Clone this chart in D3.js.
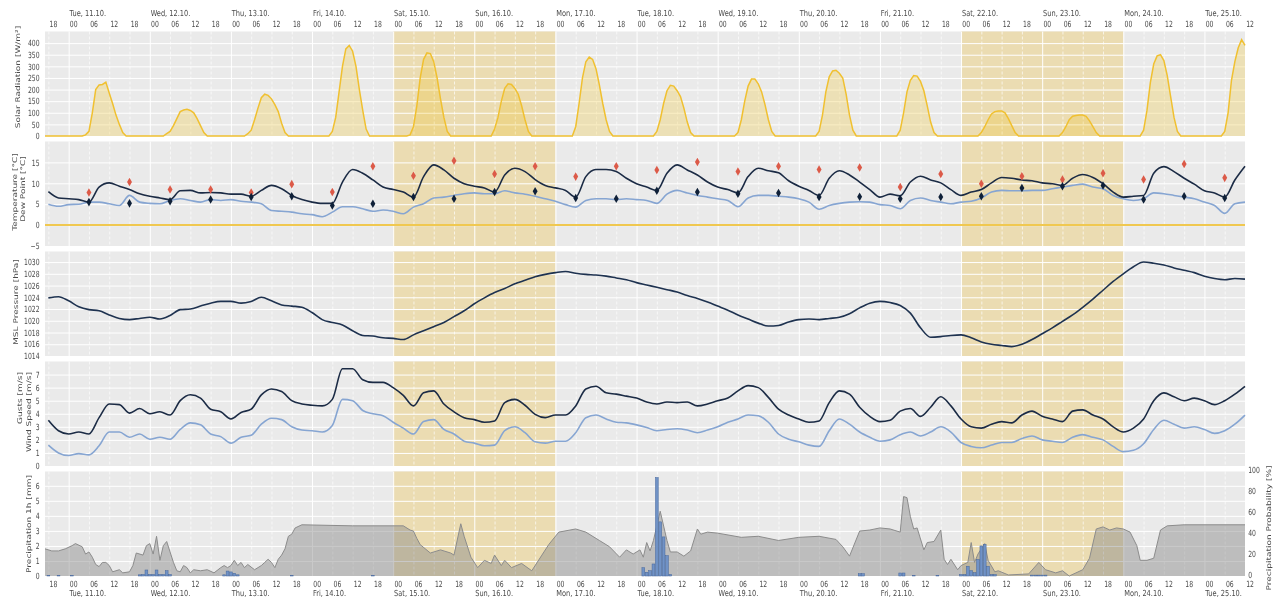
<!DOCTYPE html>
<html><head><meta charset="utf-8">
<script src="https://cdn.jsdelivr.net/npm/d3@7"></script>
<style>
body{margin:0;background:#fff}
svg{display:block;will-change:transform}
text{font-family:"DejaVu Sans",sans-serif;fill:#4a4a4a}
</style></head>
<body><svg id="c" width="1274" height="598"></svg>
<script>
// ---------------- DATA ----------------
const timeStart = "2022-10-10 17", timeEnd = "2022-10-25 12";
const seriesStart = "2022-10-10 18";           // 3-hourly series start
const weekends = [["2022-10-15 00","2022-10-17 00"],["2022-10-22 00","2022-10-24 00"]];

// solar radiation, hourly 04..17 UTC per day [W/m²]
const solarDays = ["2022-10-11","2022-10-12","2022-10-13","2022-10-14","2022-10-15","2022-10-16","2022-10-17",
  "2022-10-18","2022-10-19","2022-10-20","2022-10-21","2022-10-22","2022-10-23","2022-10-24","2022-10-25"];
const solarValues = [
  [0,5,20,100,200,220,222,232,185,140,90,50,15,0],
  [0,10,20,45,75,105,112,115,110,100,75,45,15,0],
  [0,10,25,70,120,165,180,175,160,135,105,55,15,0],
  [0,0,20,80,190,300,375,390,365,300,200,110,30,0],
  [0,5,40,130,250,330,358,355,320,250,160,80,20,0],
  [0,0,30,80,150,205,225,222,205,180,130,70,20,0],
  [0,0,40,140,250,320,340,330,290,220,140,70,20,0],
  [0,0,20,70,140,195,218,215,195,170,120,60,15,0],
  [0,0,15,70,150,215,245,245,225,190,135,70,20,0],
  [0,0,20,90,190,255,280,283,270,250,180,90,25,0],
  [0,0,25,100,190,240,260,258,235,195,130,60,15,0],
  [0,0,15,40,70,95,105,108,108,100,75,45,15,0],
  [0,0,15,40,70,85,88,90,90,85,65,40,15,0],
  [0,0,25,110,230,310,345,350,325,260,170,80,20,0],
  [0,0,20,100,240,320,380,415,390]
];

// 3-hourly series from seriesStart
const temperature = [8.0,6.5,
 6.3,6.1,5.5,9.1,10.1,9.3,8.5,7.5, 6.9,6.5,6.1,8.2,8.3,7.7,7.8,7.7, 7.4,7.4,6.9,8.3,9.5,8.7,7.1,6.1,
 5.5,5.2,5.2,10.3,13.3,12.4,10.8,9.1, 8.5,7.9,6.7,11.6,14.4,13.2,11.2,9.9, 9.3,8.9,7.9,12.0,13.6,12.8,10.9,9.5,
 8.9,8.3,6.7,11.6,13.3,13.3,12.8,11.2, 9.9,9.1,8.3,12.4,14.4,13.2,12.0,10.3, 9.1,8.5,7.7,11.6,13.6,13.0,12.5,10.6,
 9.3,8.3,7.1,11.2,13.0,12.0,10.3,8.5, 6.7,7.4,7.0,10.3,11.7,10.8,10.1,8.5, 7.1,7.9,8.5,10.1,11.4,11.2,10.8,10.6,
 10.1,9.9,9.5,11.2,12.1,11.4,9.9,7.9, 6.7,6.9,7.1,12.4,14.0,12.8,11.2,9.8, 8.2,7.7,6.7,10.8,14.1];
const dewPoint = [5.0,4.5,
 4.9,5.0,5.5,5.5,5.1,4.7,7.1,5.5, 5.2,5.1,5.9,6.3,5.9,5.5,6.1,5.9, 6.1,5.7,5.5,5.1,3.5,3.3,3.1,2.7,
 2.5,2.0,3.1,4.4,4.4,3.9,3.3,3.6, 3.3,2.7,4.3,5.1,6.5,6.7,7.1,7.5, 7.7,7.5,7.5,8.2,7.7,7.4,6.9,6.3,
 5.7,4.9,4.3,5.9,6.3,6.3,6.1,6.3, 6.1,5.9,5.2,7.4,8.3,7.7,7.1,6.7, 6.3,5.9,4.4,6.5,7.1,7.1,6.9,6.7,
 6.3,5.5,3.8,4.7,5.2,5.5,5.6,5.5, 4.9,4.7,3.9,5.9,6.5,5.9,5.5,5.1, 5.5,5.7,6.5,7.9,8.3,8.2,8.2,8.3,
 8.3,8.7,9.1,9.5,9.8,9.1,8.7,7.1, 6.3,5.9,6.3,7.7,7.5,7.1,6.7,6.3, 5.5,4.7,2.8,5.1,5.5];
const pressure = [1023.9,1024.1,
 1023.4,1022.4,1021.9,1021.7,1021.0,1020.4,1020.2,1020.4, 1020.6,1020.3,1020.9,1021.9,1022.0,1022.5,1023.0,1023.3,
 1023.3,1023.0,1023.3,1024.0,1023.4,1022.7,1022.5,1022.3, 1021.4,1020.2,1019.7,1019.3,1018.3,1017.5,1017.4,1017.1,
 1017.0,1016.8,1017.6,1018.3,1019.0,1019.7,1020.7,1021.7, 1022.9,1023.9,1024.8,1025.5,1026.3,1026.9,1027.5,1027.9,
 1028.2,1028.4,1028.1,1027.9,1027.8,1027.6,1027.3,1027.0, 1026.5,1026.1,1025.7,1025.3,1024.9,1024.3,1023.8,1023.2,
 1022.5,1021.8,1021.0,1020.3,1019.6,1019.1,1019.2,1019.8, 1020.2,1020.3,1020.2,1020.4,1020.6,1021.2,1022.2,1023.0,
 1023.3,1023.1,1022.6,1021.3,1018.8,1017.2,1017.3,1017.5, 1017.6,1017.1,1016.4,1016.0,1015.8,1015.6,1016.0,1016.8,
 1017.8,1018.8,1019.9,1021.0,1022.3,1023.7,1025.2,1026.7, 1028.0,1029.2,1030.0,1029.8,1029.5,1029.0,1028.6,1028.2,
 1027.6,1027.2,1027.0,1027.2,1027.1];
const gusts = [3.5,2.7,
 2.45,2.6,2.45,3.7,4.75,4.7,4.05,4.4, 4.0,4.15,3.9,5.0,5.45,5.2,4.35,4.15, 3.6,4.1,4.35,5.45,5.9,5.7,5.0,4.75,
 4.65,4.6,5.1,7.45,7.45,6.6,6.4,6.4, 6.0,5.4,4.6,5.6,5.75,4.75,4.15,3.7, 3.55,3.35,3.45,4.85,5.1,4.65,3.95,3.7,
 3.9,3.9,4.6,5.9,6.1,5.6,5.5,5.35, 5.2,4.9,4.75,4.9,4.85,4.9,4.6,4.75, 5.0,5.2,5.75,6.15,6.0,5.25,4.35,3.9,
 3.6,3.35,3.45,4.85,5.75,5.5,4.5,3.8, 3.4,3.5,4.2,4.4,3.8,4.5,5.3,4.6, 3.6,3.0,2.9,3.2,3.4,3.3,3.9,4.2,
 3.8,3.6,3.4,4.2,4.3,3.9,3.6,3.0, 2.6,2.9,3.6,5.0,5.6,5.3,5.0,5.2, 5.0,4.7,5.0,5.5,6.1];
const windSpeed = [1.6,1.0,
 0.8,0.95,0.85,1.55,2.6,2.6,2.2,2.45, 2.05,2.2,2.05,2.8,3.3,3.15,2.45,2.25, 1.75,2.2,2.35,3.2,3.65,3.55,3.0,2.75,
 2.7,2.6,3.1,5.1,5.0,4.25,4.0,3.85, 3.35,2.9,2.45,3.4,3.55,2.8,2.45,1.9, 1.75,1.55,1.6,2.7,3.0,2.55,1.85,1.75,
 1.9,1.9,2.55,3.7,3.9,3.6,3.35,3.3, 3.15,2.95,2.7,2.8,2.85,2.75,2.55,2.75, 3.0,3.35,3.6,3.9,3.85,3.35,2.45,2.05,
 1.85,1.6,1.5,2.7,3.6,3.2,2.6,2.2, 1.9,2.0,2.4,2.6,2.3,2.6,3.0,2.6, 1.8,1.5,1.4,1.6,1.8,1.8,2.1,2.3,
 2.0,1.9,1.8,2.2,2.4,2.2,2.0,1.5, 1.1,1.2,1.7,2.8,3.5,3.2,2.9,3.0, 2.8,2.5,2.7,3.2,3.9];

// 12-hourly markers from 2022-10-11 06
const markerStart = "2022-10-11 06";
const tempHigh = [7.8,10.3,8.5,8.5,7.8,9.8,7.9,14.1,11.8,15.4,12.2,14.1,11.6,14.1,13.2,15.1,12.8,14.1,13.3,13.8,9.1,12.2,9.9,11.7,10.9,12.4,10.9,14.6,11.3];
const tempLow  = [5.5,5.2,5.7,6.1,6.7,6.9,4.7,5.1,6.7,6.3,7.9,8.1,6.5,6.3,8.2,7.9,7.5,7.7,6.7,6.8,6.3,6.7,6.9,8.9,9.3,9.5,6.1,6.9,6.5];

// hourly precipitation [mm] (hours not listed: 0)
const precipTimes = ["10-10 18","10-10 21","10-11 01","10-11 21","10-11 22","10-11 23","10-12 00","10-12 01","10-12 02","10-12 03","10-12 04","10-12 05","10-12 06",
 "10-12 22","10-12 23","10-13 00","10-13 01","10-13 02","10-13 18","10-14 18",
 "10-18 02","10-18 03","10-18 04","10-18 05","10-18 06","10-18 07","10-18 08","10-18 09","10-18 10",
 "10-20 18","10-20 19","10-21 06","10-21 07","10-21 10","10-21 17",
 "10-22 00","10-22 01","10-22 02","10-22 03","10-22 04","10-22 05","10-22 06","10-22 07","10-22 08","10-22 09","10-22 10",
 "10-22 21","10-22 22","10-22 23","10-23 00","10-23 01"];
const precipValues = [0.04,0.04,0.04,0.08,0.1,0.4,0.1,0.1,0.4,0.1,0.1,0.35,0.1,
 0.08,0.33,0.27,0.18,0.08,0.05,0.05,
 0.55,0.25,0.35,0.8,6.55,3.6,2.6,1.35,0.1,
 0.15,0.15,0.2,0.2,0.05,0.05,
 0.1,0.1,0.65,0.35,0.22,1.1,2.0,2.1,0.65,0.1,0.1,
 0.06,0.06,0.06,0.06,0.06];

// precipitation probability [%]
const probTimes = ["10-10 17","10-10 19","10-10 21","10-10 23","10-11 01","10-11 02","10-11 04","10-11 05","10-11 06","10-11 07","10-11 08","10-11 09","10-11 10","10-11 11","10-11 12","10-11 13","10-11 15","10-11 16","10-11 18","10-11 19","10-11 20","10-11 22","10-11 23",
 "10-12 00","10-12 01","10-12 02","10-12 03","10-12 04","10-12 05","10-12 06","10-12 07","10-12 08","10-12 09","10-12 10","10-12 11","10-12 12","10-12 13","10-12 15","10-12 17","10-12 19","10-12 21","10-12 22","10-12 23",
 "10-13 00","10-13 01","10-13 02","10-13 03","10-13 04","10-13 05","10-13 07","10-13 09","10-13 10","10-13 11","10-13 12","10-13 13","10-13 14","10-13 15","10-13 16","10-13 17","10-13 18","10-13 19","10-13 21",
 "10-14 12","10-15 03","10-15 05","10-15 06","10-15 07","10-15 08","10-15 11","10-15 14","10-15 17","10-15 18","10-15 20","10-15 21","10-15 23",
 "10-16 01","10-16 03","10-16 05","10-16 06","10-16 08","10-16 09","10-16 11","10-16 14","10-16 17","10-16 20","10-16 22",
 "10-17 01","10-17 06","10-17 09","10-17 13","10-17 16","10-17 19","10-17 21","10-17 23",
 "10-18 01","10-18 02","10-18 03","10-18 04","10-18 05","10-18 07","10-18 09","10-18 10","10-18 12","10-18 14","10-18 16","10-18 18","10-18 19","10-18 21",
 "10-19 00","10-19 07","10-19 12","10-19 18","10-20 00","10-20 06","10-20 11","10-20 13","10-20 15","10-20 18","10-20 21",
 "10-21 00","10-21 03","10-21 06","10-21 07","10-21 08","10-21 09","10-21 10","10-21 11","10-21 13","10-21 14","10-21 16","10-21 18","10-21 19","10-21 20","10-21 21","10-21 23",
 "10-22 00","10-22 02","10-22 03","10-22 04","10-22 05","10-22 07","10-22 08","10-22 10","10-22 11","10-22 14","10-22 20","10-22 23",
 "10-23 01","10-23 04","10-23 06","10-23 08","10-23 12","10-23 14","10-23 16","10-23 18","10-23 20","10-23 22",
 "10-24 00","10-24 02","10-24 04","10-24 05","10-24 07","10-24 09","10-24 11","10-24 13","10-24 18","10-25 12"];
const probValues = [26,24,24,26,29,31,28,21,23,18,11,9,13,13,10,4,6,3,4,10,22,20,29,
 31,21,38,15,29,33,23,13,5,4,10,8,3,6,5,6,3,8,10,8,
 10,15,10,13,8,11,6,10,13,16,13,8,16,20,26,38,40,46,49,
 48,48,44,43,36,30,22,25,22,20,50,38,18,
 8,15,12,20,10,15,8,12,5,20,30,
 42,45,42,34,28,18,25,21,
 25,18,32,24,34,62,34,23,23,19,24,45,40,42,
 41,37,38,34,37,38,35,28,19,43,44,
 46,45,42,76,75,57,45,46,25,32,33,44,16,11,16,6,
 10,13,32,13,21,31,15,4,5,1,2,13,
 6,3,5,0,6,17,45,47,44,46,
 45,42,29,15,15,17,44,48,49,49];

// ---------------- CHART ----------------
const P = d3.utcParse("%Y-%m-%d %H");
const PY = s => P("2022-" + s);
const T0 = P(timeStart), T1 = P(timeEnd), S0 = P(seriesStart);
const x = d3.scaleUtc().domain([T0, T1]).range([45, 1245]);
const X0 = 45, X1 = 1245, PH = 104.5;
const tops = [31.5, 141.5, 251.5, 361.5, 471.5];
const svg = d3.select("#c");
const SX = 0.72;

const s3 = arr => arr.map((v, i) => ({t: d3.utcHour.offset(S0, 3 * i), v}));

// solar hourly
const solar = [];
for (let t = T0; t <= T1; t = d3.utcHour.offset(t, 1)) {
  const di = solarDays.indexOf(d3.utcFormat("%Y-%m-%d")(t));
  const h = t.getUTCHours();
  let v = 0;
  if (di >= 0 && h >= 4 && h - 4 < solarValues[di].length) v = solarValues[di][h - 4];
  solar.push({t, v});
}

function panel(k, y, yTicks) {
  const g = svg.append("g").attr("transform", `translate(0,${tops[k]})`);
  g.append("rect").attr("x", X0).attr("width", X1 - X0).attr("height", PH).attr("fill", "#eaeaea");
  weekends.forEach(w => {
    g.append("rect").attr("x", x(P(w[0]))).attr("width", x(P(w[1])) - x(P(w[0])))
      .attr("height", PH).attr("fill", "#ebdcb2");
  });
  const hg = g.append("g").attr("transform", `translate(${X0},0)`)
    .call(d3.axisLeft(y).tickValues(yTicks).tickSize(-(X1 - X0)).tickFormat(""));
  hg.select(".domain").remove();
  hg.selectAll("line").attr("stroke", "#fff").attr("stroke-width", 1);
  const vg = g.append("g").call(d3.axisBottom(x).ticks(d3.utcHour.every(6)).tickSize(PH).tickFormat(""));
  vg.select(".domain").remove();
  vg.selectAll("line").attr("stroke", "#fff")
    .attr("stroke-width", d => d.getUTCHours() === 0 ? 1 : 0.8)
    .attr("stroke-dasharray", d => d.getUTCHours() === 0 ? null : "3,2")
    .attr("opacity", d => d.getUTCHours() === 0 ? 1 : 0.85);
  const ya = g.append("g").attr("transform", `translate(${X0},0)`)
    .call(d3.axisLeft(y).tickValues(yTicks).tickSize(0).tickPadding(7.5).tickFormat(d3.format("d")));
  ya.select(".domain").remove();
  ya.selectAll("text").attr("font-size", 8.5).attr("transform", `scale(${SX},1)`).style("fill", "#4a4a4a");
  return g;
}
function vlabel(txt, cx, cy, size) {
  svg.append("text").attr("transform", `translate(${cx},${cy}) rotate(-90) scale(1,${SX})`)
    .attr("text-anchor", "middle").attr("dy", "0.35em").attr("font-size", size || 9).text(txt);
}

// Panel 1: solar
const yS = d3.scaleLinear([0, 450], [PH, 0]);
const g1 = panel(0, yS, d3.range(0, 401, 50));
g1.append("path").datum(solar).attr("fill", "rgba(242,196,48,0.28)")
  .attr("d", d3.area().x(d => x(d.t)).y0(yS(0)).y1(d => yS(d.v)));
g1.append("path").datum(solar).attr("fill", "none").attr("stroke", "#f0c030").attr("stroke-width", 1.5)
  .attr("d", d3.line().x(d => x(d.t)).y(d => yS(d.v)));
vlabel("Solar Radiation [W/m²]", 18, 77);

// Panel 2: temperature
const yT = d3.scaleLinear([-5, 20], [PH, 0]);
const g2 = panel(1, yT, [-5, 0, 5, 10, 15]);
g2.append("line").attr("x1", X0).attr("x2", X1).attr("y1", yT(0)).attr("y2", yT(0))
  .attr("stroke", "#f0c850").attr("stroke-width", 2);
const lineC = y => d3.line().curve(d3.curveMonotoneX).x(d => x(d.t)).y(d => y(d.v));
g2.append("path").datum(s3(dewPoint)).attr("fill", "none").attr("stroke", "#86a5d2").attr("stroke-width", 1.6).attr("d", lineC(yT));
g2.append("path").datum(s3(temperature)).attr("fill", "none").attr("stroke", "#1b2b45").attr("stroke-width", 1.6).attr("d", lineC(yT));
const M0 = P(markerStart);
const diamond = d3.symbol().type(d3.symbolDiamond).size(21);
g2.selectAll(".hi").data(tempHigh).join("path").attr("d", diamond).attr("fill", "#dc5a48")
  .attr("transform", (v, i) => `translate(${x(d3.utcHour.offset(M0, 12 * i))},${yT(v)})`);
g2.selectAll(".lo").data(tempLow).join("path").attr("d", diamond).attr("fill", "#0f2038")
  .attr("transform", (v, i) => `translate(${x(d3.utcHour.offset(M0, 12 * i))},${yT(v)})`);
vlabel("Temperature [°C]", 15, 192);
vlabel("Dew Point [°C]", 22.7, 189);

// Panel 3: pressure
const yP = d3.scaleLinear([1014, 1031.8], [PH, 0]);
const g3 = panel(2, yP, d3.range(1014, 1031, 2));
g3.append("path").datum(s3(pressure)).attr("fill", "none").attr("stroke", "#1e3250").attr("stroke-width", 1.6).attr("d", lineC(yP));
vlabel("MSL Pressure [hPa]", 16, 302);

// Panel 4: wind
const yW = d3.scaleLinear([0, 8], [PH, 0]);
const g4 = panel(3, yW, d3.range(0, 8));
g4.append("path").datum(s3(windSpeed)).attr("fill", "none").attr("stroke", "#86a5d2").attr("stroke-width", 1.6).attr("d", lineC(yW));
g4.append("path").datum(s3(gusts)).attr("fill", "none").attr("stroke", "#1b2b45").attr("stroke-width", 1.6).attr("d", lineC(yW));
vlabel("Gusts [m/s]", 20, 398);
vlabel("Wind Speed [m/s]", 28.3, 412);

// Panel 5: precipitation
const yR = d3.scaleLinear([0, 6.95], [PH, 0]);
const yQ = d3.scaleLinear([0, 100], [PH, 0]);
const g5 = panel(4, yR, d3.range(0, 7));
const prob = probTimes.map((s, i) => ({t: PY(s), v: probValues[i]}));
g5.append("path").datum(prob).attr("fill", "rgba(135,135,135,0.45)")
  .attr("d", d3.area().x(d => x(d.t)).y0(yQ(0)).y1(d => yQ(d.v)));
g5.append("path").datum(prob).attr("fill", "none").attr("stroke", "#8c8c8c").attr("stroke-width", 1)
  .attr("d", d3.line().x(d => x(d.t)).y(d => yQ(d.v)));
const bw = x(P("2022-10-11 01")) - x(P("2022-10-11 00"));
g5.selectAll(".bar").data(precipTimes).join("rect")
  .attr("x", s => x(PY(s)) - bw / 2 + 0.3).attr("width", bw - 0.6)
  .attr("y", (s, i) => yR(precipValues[i])).attr("height", (s, i) => yR(0) - yR(precipValues[i]))
  .attr("fill", "#7092c6").attr("stroke", "#45669c").attr("stroke-width", 0.5);
const ra = g5.append("g").attr("transform", `translate(${X1},0)`)
  .call(d3.axisRight(yQ).tickValues(d3.range(0, 101, 20)).tickSize(0).tickPadding(4.5).tickFormat(d3.format("d")));
ra.select(".domain").remove();
ra.selectAll("text").attr("font-size", 8.5).attr("dy", "0.12em").attr("transform", `scale(${SX},1)`).style("fill", "#4a4a4a");
vlabel("Precipitation 1h [mm]", 28.3, 524);
vlabel("Precipitation Probability [%]", 1269, 528);

// time axes
function timeAxes(hourY, dayY) {
  const ha = svg.append("g").call(d3.axisBottom(x).ticks(d3.utcHour.every(6)).tickFormat(d3.utcFormat("%H")).tickSize(0));
  ha.select(".domain").remove();
  ha.selectAll("text").attr("y", hourY).attr("dy", 0).attr("x", 1).attr("text-anchor", "start")
    .attr("font-size", 8.5).attr("transform", `scale(${SX},1)`).style("fill", "#4a4a4a");
  const da = svg.append("g").call(d3.axisBottom(x).ticks(d3.utcDay.every(1)).tickFormat(d3.utcFormat("%a, %d.%m.")).tickSize(0));
  da.select(".domain").remove();
  da.selectAll("text").attr("y", dayY).attr("dy", 0).attr("x", 0.5).attr("text-anchor", "start")
    .attr("font-size", 8.3).attr("transform", `scale(0.8,1)`).style("fill", "#4a4a4a");
}
timeAxes(27.3, 16);
timeAxes(586.8, 596.5);
</script></body></html>
